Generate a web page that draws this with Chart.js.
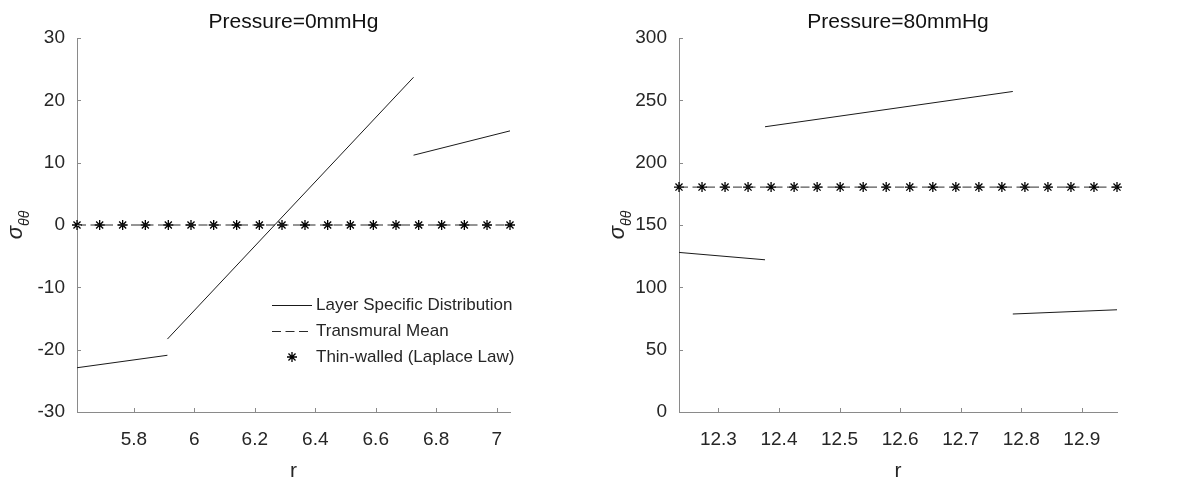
<!DOCTYPE html>
<html>
<head>
<meta charset="utf-8">
<script src="https://cdn.jsdelivr.net/npm/chart.js@4.4.1/dist/chart.umd.min.js"></script>
<style>
  html, body { margin: 0; padding: 0; background: #fff; }
  #wrap { position: relative; width: 1191px; height: 489px; overflow: hidden; }
  canvas { position: absolute; top: 0; }
  #c0 { left: 0; }
  #c1 { left: 595px; }
</style>
</head>
<body>
<div id="wrap">
  <canvas id="c0" width="595" height="489"></canvas>
  <canvas id="c1" width="596" height="489"></canvas>
</div>
<script>
// ── values ──
// Pressure = 0 mmHg
const r0Layers = [5.612, 5.911, 6.725, 7.044];      // layer boundaries
const s0Inner  = [-22.9, -18.3, 11.2];              // stress at inner edge of each layer
const s0Outer  = [-20.9, 23.7, 15.1];               // stress at outer edge of each layer
const s0Mean   = [0, 0];                            // transmural mean (at first/last r)
const r0Laplace = [5.612, 5.687, 5.763, 5.838, 5.914, 5.989, 6.064, 6.140, 6.215, 6.290,
                   6.366, 6.441, 6.516, 6.592, 6.667, 6.742, 6.818, 6.893, 6.968, 7.044];
const s0Laplace = [0, 0, 0, 0, 0, 0, 0, 0, 0, 0, 0, 0, 0, 0, 0, 0, 0, 0, 0, 0];
const x0Ticks = [5.8, 6, 6.2, 6.4, 6.6, 6.8, 7];
const y0Ticks = [-30, -20, -10, 0, 10, 20, 30];

// Pressure = 80 mmHg
const r1Layers = [12.235, 12.377, 12.786, 12.958];
const s1Inner  = [128.0, 228.8, 78.6];
const s1Outer  = [122.1, 257.1, 82.0];
const s1Mean   = [180.4, 180.4];
const r1Laplace = [12.235, 12.273, 12.311, 12.349, 12.387, 12.425, 12.463, 12.501, 12.539, 12.577,
                   12.616, 12.654, 12.692, 12.730, 12.768, 12.806, 12.844, 12.882, 12.920, 12.958];
const s1Laplace = [180.4, 180.4, 180.4, 180.4, 180.4, 180.4, 180.4, 180.4, 180.4, 180.4,
                   180.4, 180.4, 180.4, 180.4, 180.4, 180.4, 180.4, 180.4, 180.4, 180.4];
const x1Ticks = [12.3, 12.4, 12.5, 12.6, 12.7, 12.8, 12.9];
const y1Ticks = [0, 50, 100, 150, 200, 250, 300];

const legendLabels = ['Layer Specific Distribution', 'Transmural Mean', 'Thin-walled (Laplace Law)'];

const FONT = "'Liberation Sans', Arial, Helvetica, sans-serif";
const AXIS = '#8a8a8a';
const INK = '#262626';

function layerPoints(bounds, inner, outer) {
  const pts = [];
  for (let i = 0; i < inner.length; i++) {
    pts.push({ x: bounds[i], y: inner[i] }, { x: bounds[i + 1], y: outer[i] }, { x: bounds[i + 1], y: null });
  }
  return pts;
}

// inward ticks, title, sigma label, legend
const decor = {
  id: 'decor',
  afterDraw(chart, args, o) {
    const { ctx, chartArea: a, scales } = chart;
    ctx.save();
    ctx.strokeStyle = AXIS; ctx.lineWidth = 1;
    ctx.beginPath();
    scales.x.ticks.forEach(t => {
      const px = Math.round(scales.x.getPixelForValue(t.value)) + 0.5;
      ctx.moveTo(px, a.bottom); ctx.lineTo(px, a.bottom - 4);
    });
    scales.y.ticks.forEach(t => {
      const py = Math.round(scales.y.getPixelForValue(t.value)) + 0.5;
      ctx.moveTo(a.left, py); ctx.lineTo(a.left + 4, py);
    });
    ctx.stroke();

    // title
    ctx.fillStyle = '#111';
    ctx.font = '21px ' + FONT;
    ctx.textAlign = 'center'; ctx.textBaseline = 'alphabetic';
    ctx.fillText(o.title, (a.left + a.right) / 2, 28);

    // σθθ
    ctx.save();
    ctx.translate(a.left - 55, (a.top + a.bottom) / 2);
    ctx.rotate(-Math.PI / 2);
    ctx.fillStyle = INK;
    ctx.font = 'italic 22px ' + FONT;
    const w1 = ctx.measureText('σ').width;
    ctx.font = 'italic 14px ' + FONT;
    const w2 = ctx.measureText('θθ').width;
    ctx.textAlign = 'left';
    ctx.font = 'italic 22px ' + FONT;
    ctx.fillText('σ', -(w1 + w2) / 2, 0);
    ctx.font = 'italic 14px ' + FONT;
    ctx.fillText('θθ', -(w1 + w2) / 2 + w1, 7);
    ctx.restore();

    // legend
    if (o.legend) {
      const lx = a.right - 238, ly = a.bottom - 107;
      ctx.font = '17px ' + FONT;
      ctx.textAlign = 'left'; ctx.textBaseline = 'middle';
      chart.data.datasets.forEach((ds, i) => {
        const y = ly + i * 26;
        if (ds.showLine === false) {
          ctx.save();
          ctx.strokeStyle = ds.pointBorderColor; ctx.lineWidth = ds.pointBorderWidth;
          Chart.helpers.drawPoint(ctx, {
            pointStyle: ds.pointStyle, radius: ds.pointRadius, borderWidth: ds.pointBorderWidth
          }, lx + 20, y);
          ctx.restore();
        } else {
          ctx.save();
          ctx.strokeStyle = ds.borderColor; ctx.lineWidth = ds.borderWidth;
          ctx.setLineDash(ds.borderDash || []);
          ctx.beginPath(); ctx.moveTo(lx, y + 0.5); ctx.lineTo(lx + 40, y + 0.5); ctx.stroke();
          ctx.restore();
        }
        ctx.fillStyle = INK;
        ctx.fillText(ds.label, lx + 44, y);
      });
    }
    ctx.restore();
  }
};

function makeChart(id, cfg) {
  const tickFmt = v => String(Math.round(v * 10) / 10);
  return new Chart(document.getElementById(id), {
    type: 'scatter',
    data: {
      datasets: [
        {
          label: legendLabels[0],
          data: layerPoints(cfg.layers, cfg.inner, cfg.outer),
          showLine: true, borderColor: '#1a1a1a', borderWidth: 1,
          pointRadius: 0, spanGaps: false
        },
        {
          label: legendLabels[1],
          data: [{ x: cfg.layers[0], y: cfg.mean[0] }, { x: cfg.layers[cfg.layers.length - 1], y: cfg.mean[1] }],
          showLine: true, borderColor: '#2a2a2a', borderWidth: 1, borderDash: [9, 4.5],
          pointRadius: 0
        },
        {
          label: legendLabels[2],
          data: cfg.lapR.map((r, i) => ({ x: r, y: cfg.lapS[i] })),
          showLine: false, pointStyle: 'star', pointRadius: 5,
          pointBorderColor: '#000', pointBackgroundColor: '#000', pointBorderWidth: 1.3,
          clip: false
        }
      ]
    },
    options: {
      responsive: false, animation: false,
      layout: { padding: { top: 38, right: cfg.padRight, left: 0, bottom: 0 } },
      plugins: { legend: { display: false }, tooltip: { enabled: false }, title: { display: false },
        decor: { title: cfg.title, legend: cfg.legend } },
      scales: {
        x: {
          type: 'linear', min: cfg.layers[0], max: cfg.layers[cfg.layers.length - 1],
          afterBuildTicks: s => { s.ticks = cfg.xTicks.map(v => ({ value: v })); },
          afterFit: s => { s.height = 77; },
          grid: { drawOnChartArea: false, drawTicks: false },
          border: { color: AXIS, width: 1 },
          ticks: { autoSkip: false, maxRotation: 0, padding: 16, color: INK,
            font: { family: FONT, size: 19 }, callback: tickFmt },
          title: { display: true, text: 'r', color: INK, font: { family: FONT, size: 21 },
            padding: { top: 0, bottom: 5 } }
        },
        y: {
          type: 'linear', min: cfg.yTicks[0], max: cfg.yTicks[cfg.yTicks.length - 1],
          afterBuildTicks: s => { s.ticks = cfg.yTicks.map(v => ({ value: v })); },
          afterFit: s => { s.width = cfg.yWidth; },
          grid: { drawOnChartArea: false, drawTicks: false },
          border: { color: AXIS, width: 1 },
          ticks: { autoSkip: false, padding: 12, color: INK,
            font: { family: FONT, size: 19 }, callback: v => String(v) }
        }
      }
    },
    plugins: [decor]
  });
}

makeChart('c0', {
  title: 'Pressure=0mmHg', legend: true,
  layers: r0Layers, inner: s0Inner, outer: s0Outer, mean: s0Mean,
  lapR: r0Laplace, lapS: s0Laplace, xTicks: x0Ticks, yTicks: y0Ticks,
  yWidth: 77, padRight: 85
});
makeChart('c1', {
  title: 'Pressure=80mmHg', legend: false,
  layers: r1Layers, inner: s1Inner, outer: s1Outer, mean: s1Mean,
  lapR: r1Laplace, lapS: s1Laplace, xTicks: x1Ticks, yTicks: y1Ticks,
  yWidth: 84, padRight: 74
});
</script>
</body>
</html>
